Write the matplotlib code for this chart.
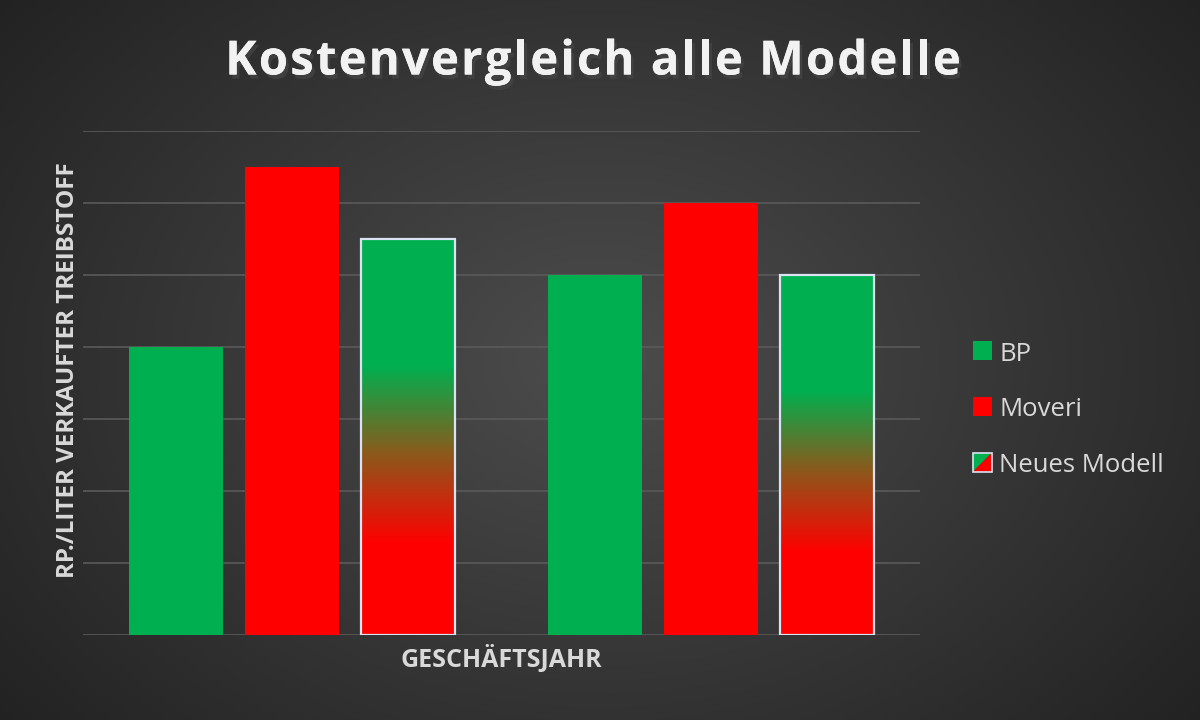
import numpy as np
import matplotlib
matplotlib.use('Agg')
import matplotlib.pyplot as plt
import matplotlib.patheffects as pe
from matplotlib.colors import LinearSegmentedColormap
from matplotlib.legend_handler import HandlerBase
from matplotlib.patches import Patch, Polygon, Rectangle

# data (gridline units, no tick labels shown)
years = ['', '']
bp = [4.0, 5.0]
moveri = [6.5, 6.0]
neues = [5.5, 5.0]
series_names = ['BP', 'Moveri', 'Neues Modell']
title = 'Kostenvergleich alle Modelle'

GREEN = '#00b050'
RED = '#ff0000'
TXT = '#d9d9d9'

plt.rcParams['font.family'] = ['Open Sans', 'DejaVu Sans']

fig = plt.figure(figsize=(12, 7.2), dpi=100)

# dark radial background
bg = fig.add_axes([0, 0, 1, 1], zorder=-10)
yy, xx = np.mgrid[0:720, 0:1200]
r = np.sqrt(((xx - 600) / 700.0) ** 2 + ((yy - 360) / 520.0) ** 2)
shade = np.clip(0.30 - 0.15 * r, 0.12, 0.30)
bg.imshow(np.dstack([shade, shade, shade]), extent=[0, 1, 0, 1],
          aspect='auto', origin='upper')
bg.axis('off')

ax = fig.add_axes([83 / 1200, 1 - 635 / 720, 837 / 1200, 504 / 720])
ax.set_facecolor('none')

x = np.arange(len(years))
w = 0.225
off = 0.277
ax.bar(x - off, bp, w, color=GREEN, zorder=3)
ax.bar(x, moveri, w, color=RED, zorder=3)
bars = ax.bar(x + off, neues, w, facecolor='none', edgecolor='#dae3f3',
              lw=1.6, zorder=5)

# green on top fading through olive into red at the bottom
grad = LinearSegmentedColormap.from_list(
    'neu', [(0, RED), (0.23, RED), (0.46, '#8a5a1c'), (0.68, GREEN), (1, GREEN)])
col = np.linspace(0, 1, 256).reshape(-1, 1)
for b in bars:
    im = ax.imshow(col, cmap=grad, origin='lower', aspect='auto',
                   extent=[b.get_x(), b.get_x() + b.get_width(), 0, b.get_height()],
                   zorder=4)
    im.set_clip_path(b)

ax.set_xlim(-0.5, 1.5)
ax.set_ylim(0, 7)
ax.set_yticks(np.arange(0, 8))
ax.set_xticks(x)
ax.set_xticklabels(years)
ax.grid(axis='y', color='#5a5a5a', lw=1.2, zorder=0)
ax.tick_params(length=0, labelleft=False)
for s in ax.spines.values():
    s.set_visible(False)

ax.set_xlabel('GESCHÄFTSJAHR', color=TXT, fontsize=18, fontweight='bold', labelpad=4)
ax.set_ylabel('RP./LITER VERKAUFTER TREIBSTOFF', color=TXT, fontsize=17.5,
              fontweight='bold')
ax.yaxis.set_label_coords(-0.004, 0.526)

# title with a bit of letter spacing, one glyph at a time
renderer = fig.canvas.get_renderer()
tkw = dict(color='#f2f2f2', fontsize=34, fontweight='bold', va='center',
           path_effects=[pe.withSimplePatchShadow(offset=(2, -3), alpha=0.6),
                         pe.Normal()])
track = 2.2
space_w = 12.0
widths = []
for ch in title:
    if ch == ' ':
        widths.append(space_w)
    else:
        t = fig.text(0, 0, ch, **tkw)
        widths.append(t.get_window_extent(renderer).width)
        t.remove()
total = sum(widths) + track * (len(title) - 1)
xpos = 593 - total / 2
for ch, cw in zip(title, widths):
    if ch != ' ':
        fig.text(xpos / 1200, 1 - 62 / 720, ch, ha='left', **tkw)
    xpos += cw + track


class GradHandler(HandlerBase):
    def create_artists(self, legend, orig, xd, yd, width, height, fontsize, trans):
        s = min(width, height)
        x0, y0 = xd + width - s, yd
        g = Polygon([[x0, y0 + s], [x0, y0], [x0 + s, y0 + s]], closed=True,
                    facecolor=GREEN, transform=trans)
        rd = Polygon([[x0 + s, y0], [x0, y0], [x0 + s, y0 + s]], closed=True,
                     facecolor=RED, transform=trans)
        edge = Rectangle((x0, y0), s, s, facecolor='none', edgecolor='#dae3f3',
                         lw=1.2, transform=trans)
        return [g, rd, edge]


class SquareHandler(HandlerBase):
    def create_artists(self, legend, orig, xd, yd, width, height, fontsize, trans):
        s = min(width, height)
        return [Rectangle((xd + width - s, yd), s, s, facecolor=orig.get_facecolor(),
                          transform=trans)]


h_bp = Patch(facecolor=GREEN)
h_mv = Patch(facecolor=RED)
h_nm = Patch(facecolor=GREEN)
fig.legend([h_bp, h_mv, h_nm], series_names, loc='center left',
           bbox_to_anchor=(0.791, 1 - 410 / 720), frameon=False,
           labelcolor=TXT, fontsize=18.5, labelspacing=1.2, handlelength=0.75,
           handleheight=0.75, handletextpad=0.3,
           handler_map={h_bp: SquareHandler(), h_mv: SquareHandler(),
                        h_nm: GradHandler()})

fig.savefig('out.png', dpi=100)
